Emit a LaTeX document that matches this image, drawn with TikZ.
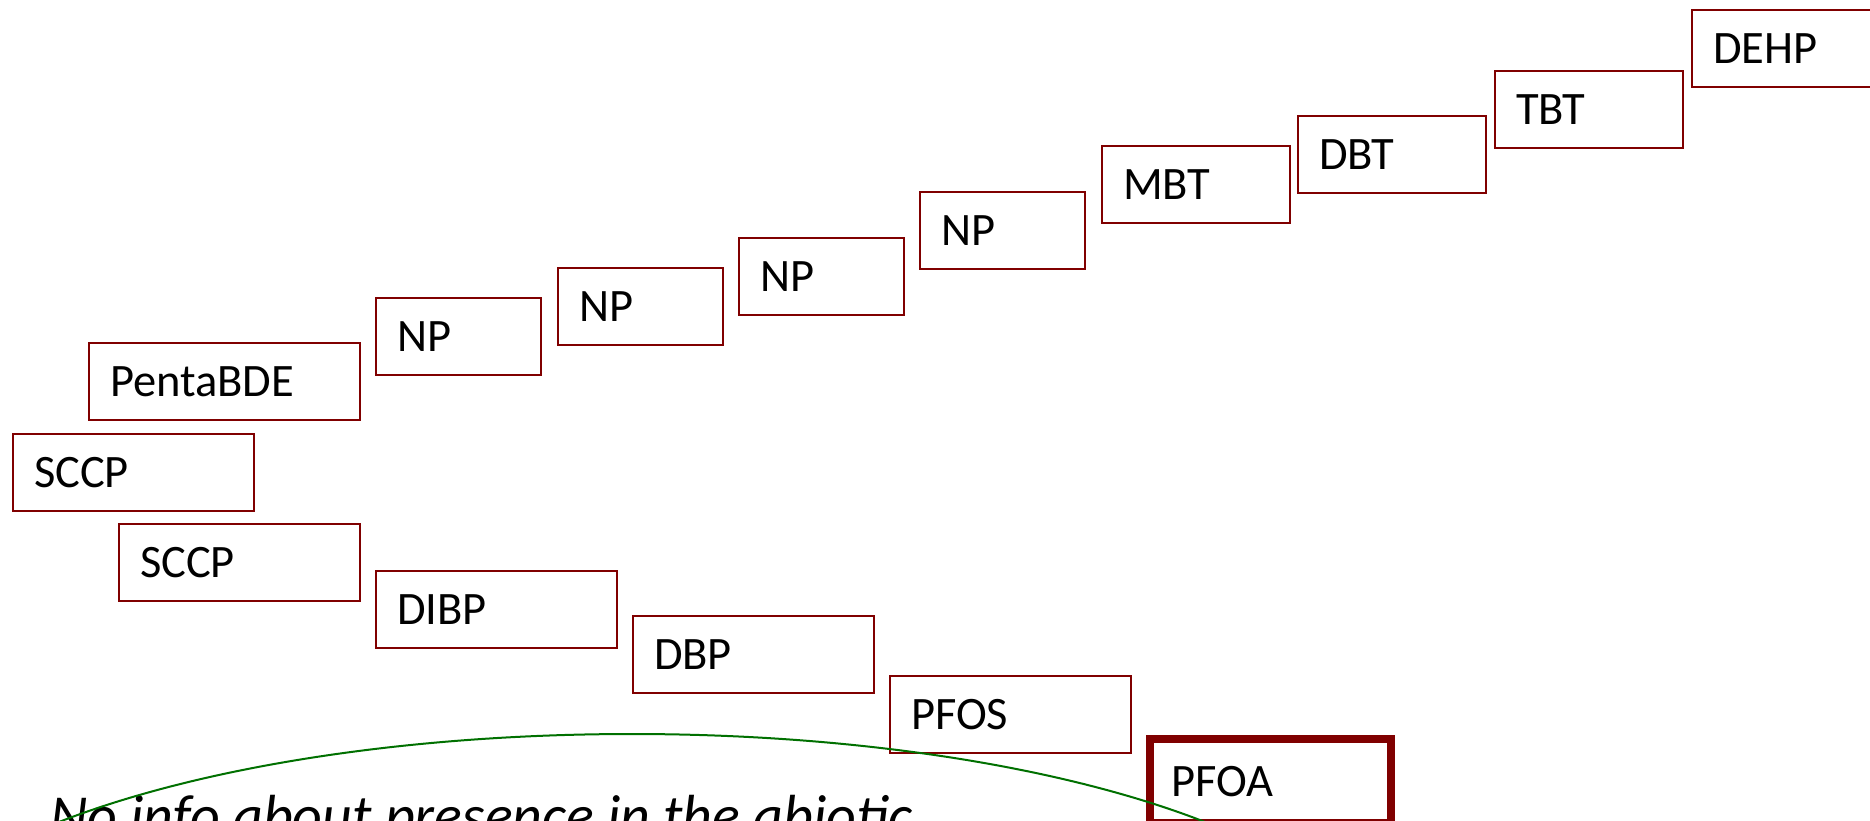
\documentclass[tikz,border=0pt]{standalone}
\usepackage{fontspec}
\setmainfont{Carlito}
\usetikzlibrary{positioning}
\definecolor{dRed}{HTML}{800000}
\definecolor{dGreen}{HTML}{007000}
\tikzset{
  cp/.style  = {draw=dRed, line width=2pt, anchor=north west, align=left,
                minimum height=77pt, inner xsep=21pt, inner ysep=0pt,
                text height=30pt, text depth=0pt,
                font=\fontsize{46.5}{50}\selectfont},
  cph/.style = {cp, line width=8pt, minimum height=84pt},
  rim/.style = {draw=dGreen, line width=2pt},
  lbl/.style = {font=\fontsize{58}{62}\selectfont\itshape, anchor=base west,
                inner sep=0pt},
}

\begin{document}
\begin{tikzpicture}[x=1pt, y=-1pt]
  \useasboundingbox (0,0) rectangle (1870,820);
  \clip (0,0) rectangle (1870,820);
  % rising steps
  \foreach \n/\x/\y/\w/\t [evaluate=\w as \tw using \w-42] in
      {penta/88/342/271/PentaBDE, np1/375/297/165/NP, np2/557/267/165/NP,
       np3/738/237/165/NP, np4/919/191/165/NP, mbt/1101/145/188/MBT,
       dbt/1297/115/188/DBT, tbt/1494/70/188/TBT, dehp/1691/9/188/DEHP}
    \node[cp, minimum width=\w pt, text width=\tw pt] (\n) at (\x,\y) {\t};
  % falling steps
  \foreach \n/\x/\y/\t in {sccpA/12/433/SCCP, sccpB/118/523/SCCP,
       dibp/375/570/DIBP, dbp/632/615/DBP, pfos/889/675/PFOS}
    \node[cp, minimum width=241pt, text width=199pt] (\n) at (\x,\y) {\t};
  \node[cph, minimum width=241pt, text width=199pt] (pfoa) at (1146,735) {PFOA};
  % note and ring
  \node[lbl] (note) at (50,835) {No info about presence in the abiotic};
  \draw[rim] (632,982) ellipse [x radius=750, y radius=248];
\end{tikzpicture}
\end{document}
